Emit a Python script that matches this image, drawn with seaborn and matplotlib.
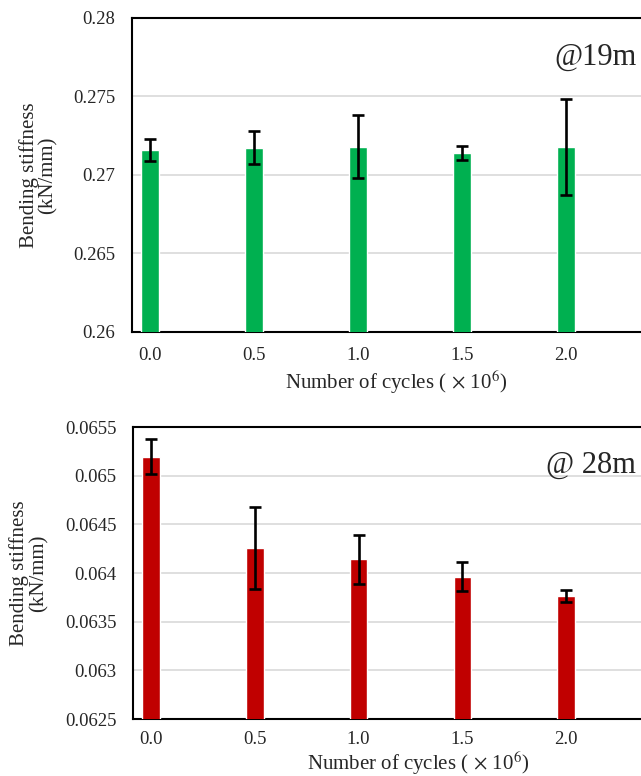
import matplotlib
matplotlib.use("Agg")
import matplotlib.pyplot as plt
import seaborn as sns
import pandas as pd

cycles = ["0.0", "0.5", "1.0", "1.5", "2.0"]
stiff_19 = [0.27159, 0.27174, 0.27180, 0.27141, 0.27180]
err_19 = [0.00070, 0.00105, 0.00200, 0.00043, 0.00305]
stiff_28 = [0.065195, 0.064260, 0.064140, 0.063960, 0.063765]
err_28 = [0.00018, 0.00042, 0.00025, 0.00015, 0.00006]
yticks_19 = [0.26, 0.265, 0.27, 0.275, 0.28]
ylabels_19 = ["0.26", "0.265", "0.27", "0.275", "0.28"]
yticks_28 = [0.0625, 0.063, 0.0635, 0.064, 0.0645, 0.065, 0.0655]
ylabels_28 = ["0.0625", "0.063", "0.0635", "0.064", "0.0645", "0.065", "0.0655"]

sns.set_style("white")
plt.rcParams["font.family"] = ["Liberation Serif", "DejaVu Serif"]
plt.rcParams["mathtext.fontset"] = "stix"

W, H = 641, 776
fig = plt.figure(figsize=(W / 100, H / 100), dpi=100)

def px_axes(left, top, right, bottom):
    return fig.add_axes([left / W, 1 - bottom / H, (right - left) / W, (bottom - top) / H])

def panel(ax, vals, errs, color, yticks, ylabels, note, note_xy, ylab_x, xlab_xy, xpad):
    df = pd.DataFrame({"cycles": cycles, "val": vals})
    sns.barplot(data=df, x="cycles", y="val", color=color, width=0.17,
                saturation=1, errorbar=None, ax=ax, zorder=3)
    ax.errorbar(range(len(cycles)), vals, yerr=errs, fmt="none", ecolor="black",
                elinewidth=1.9, capsize=4.5, capthick=1.9, zorder=4)
    ax.set_ylim(yticks[0], yticks[-1])
    ax.set_yticks(yticks)
    ax.set_yticklabels(ylabels)
    ax.set_xlim(-0.173, (660 - 150) / 104)
    ax.yaxis.grid(True, color="#d9d9d9", linewidth=1.2, zorder=0)
    ax.set_axisbelow(True)
    for s in ax.spines.values():
        s.set_color("black")
        s.set_linewidth(1.5)
    ax.tick_params(axis="both", length=0, labelsize=13.5)
    ax.tick_params(axis="y", pad=12)
    ax.tick_params(axis="x", pad=xpad)
    ax.set_ylabel("Bending stiffness\n(kN/mm)", fontsize=15, linespacing=1.0)
    ax.yaxis.set_label_coords(ylab_x, 0.5)
    ax.set_xlabel(r"Number of cycles ($\,\times\,$10$^{6}$)", fontsize=15)
    ax.xaxis.set_label_coords(*xlab_xy)
    ax.text(note_xy[0], note_xy[1], note, transform=ax.transAxes, fontsize=22,
            ha="center", va="center")

ax1 = px_axes(132, 18, 660, 332)
panel(ax1, stiff_19, err_19, "#00B050", yticks_19, ylabels_19, "@19m",
      ((595 - 132) / 528, 1 - (57 - 18) / 314), -0.14, (0.5, -0.115), 11)

ax2 = px_axes(133, 427, 660, 719)
panel(ax2, stiff_28, err_28, "#C00000", yticks_28, ylabels_28, "@ 28m",
      ((591 - 133) / 527, 1 - (465 - 427) / 292), -0.16, (0.541, -0.104), 9)

fig.savefig("out.png", dpi=100)
